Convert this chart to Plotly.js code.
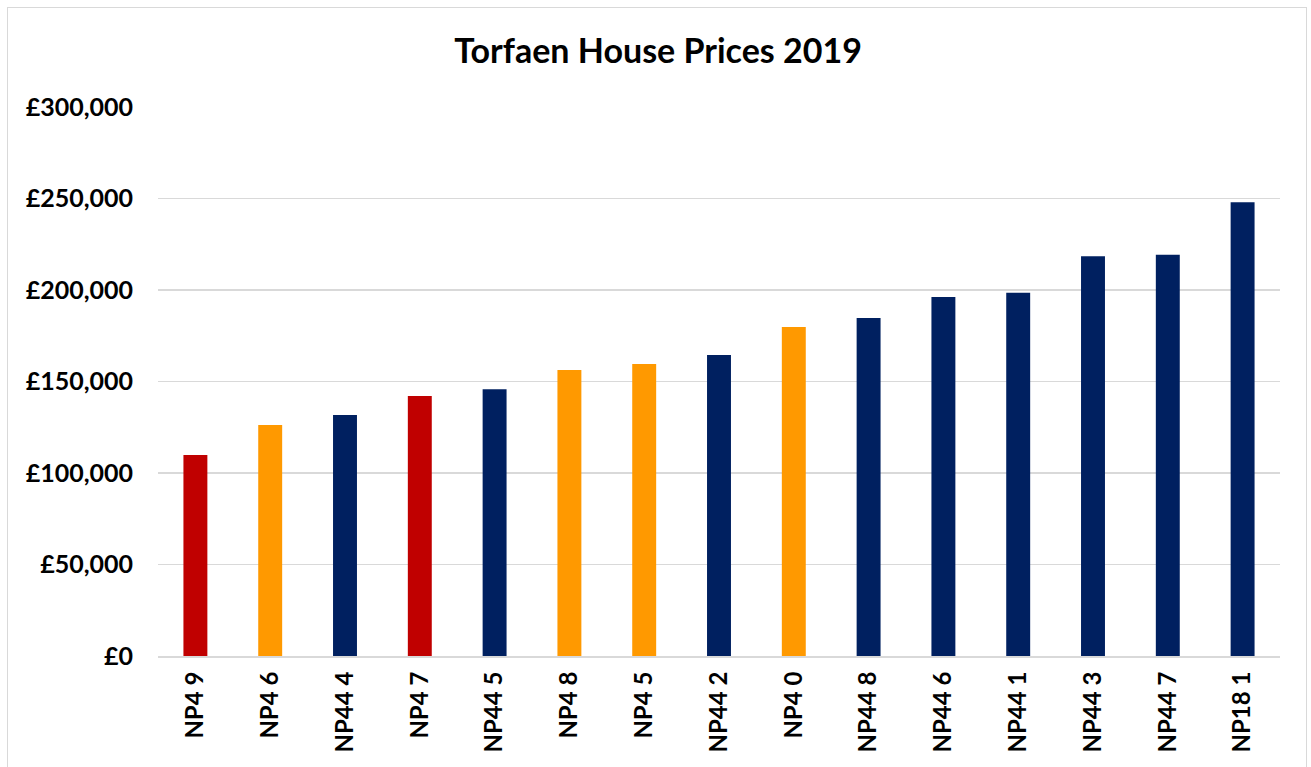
<!DOCTYPE html>
<html>
<head>
<meta charset="utf-8">
<script src="https://cdn.plot.ly/plotly-3.0.1.min.js"></script>
<style>
  html, body { margin: 0; padding: 0; background: #ffffff; }
  #wrap { position: relative; width: 1311px; height: 767px; overflow: hidden; }
  #chart { position: absolute; left: 0; top: 0; width: 1311px; height: 767px; }
  #frame { position: absolute; left: 7px; top: 7px; width: 1298px; height: 780px; border: 1px solid #d9d9d9; pointer-events: none; }
</style>
</head>
<body>
<div id="wrap">
  <div id="chart"></div>
  <div id="frame"></div>
</div>
<script>
const categories = ["NP4 9", "NP4 6", "NP44 4", "NP4 7", "NP44 5", "NP4 8", "NP4 5", "NP44 2", "NP4 0", "NP44 8", "NP44 6", "NP44 1", "NP44 3", "NP44 7", "NP18 1"];
const prices = [109800, 126200, 131700, 142100, 145700, 156300, 159600, 164500, 179800, 184700, 196200, 198500, 218400, 219300, 247900];
const groups = ["red", "orange", "navy", "red", "navy", "orange", "orange", "navy", "orange", "navy", "navy", "navy", "navy", "navy", "navy"];
const groupColours = { red: "#C00000", orange: "#FF9900", navy: "#002060" };
const yTickValues = [0, 50000, 100000, 150000, 200000, 250000, 300000];
const yTickLabels = ["£0", "£50,000", "£100,000", "£150,000", "£200,000", "£250,000", "£300,000"];
const chartTitle = "Torfaen House Prices 2019";

const font = "Lato, 'Open Sans', sans-serif";

const trace = {
  type: "bar",
  x: categories,
  y: prices,
  marker: { color: groups.map(g => groupColours[g]), line: { width: 0 } },
  hoverinfo: "x+y"
};

const layout = {
  width: 1311,
  height: 767,
  paper_bgcolor: "#ffffff",
  plot_bgcolor: "#ffffff",
  margin: { l: 158, r: 31, t: 107, b: 111 },
  bargap: 0.68,
  showlegend: false,
  title: {
    text: "<b>" + chartTitle + "</b>",
    font: { family: font, size: 34, color: "#000000" },
    x: 0.502,
    xanchor: "center",
    y: 0.934,
    yanchor: "middle"
  },
  xaxis: {
    type: "category",
    tickangle: -90,
    tickfont: { family: font, size: 24, color: "#000000", weight: "bold" },
    showline: true,
    linecolor: "#d9d9d9",
    linewidth: 2,
    ticks: "",
    ticklen: 0,
    showgrid: false,
    automargin: false,
    ticklabelstandoff: 4
  },
  yaxis: {
    range: [0, 300000],
    tickvals: yTickValues,
    ticktext: yTickLabels,
    tickfont: { family: font, size: 25, color: "#000000", weight: "bold" },
    showgrid: true,
    gridcolor: "#d9d9d9",
    gridwidth: 1.5,
    zeroline: false,
    showline: false,
    ticks: "",
    ticklabelstandoff: 24,
    automargin: false,
    fixedrange: true
  }
};

Plotly.newPlot("chart", [trace], layout, { displayModeBar: false, staticPlot: true });
</script>
</body>
</html>
